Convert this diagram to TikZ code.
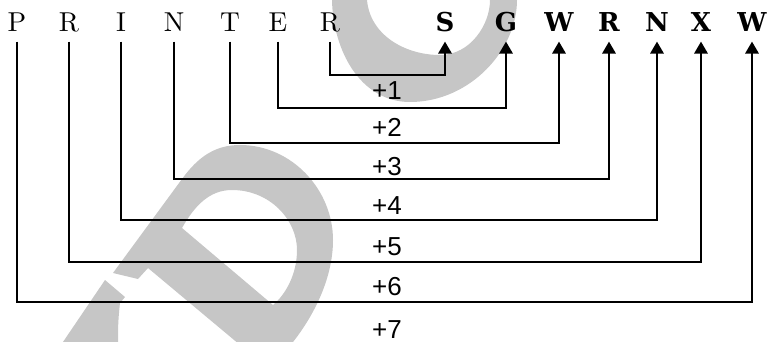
\documentclass[tikz,border=0pt]{standalone}
\usepackage{fontspec}
\newfontfamily\wordfont{lmroman10-regular}[Extension=.otf]
\newfontfamily\codefont{DejaVu Serif}
\newfontfamily\stepfont{Liberation Sans}
\usetikzlibrary{arrows.meta}
\definecolor{wmgray}{RGB}{198,198,198}
\tikzset{
  src/.style={anchor=base, inner xsep=0pt, inner ysep=7pt, text depth=0pt,
    font=\wordfont\fontsize{20.5}{20.5}\selectfont},
  dst/.style={anchor=base, inner xsep=0pt, inner ysep=7pt, text depth=0pt,
    font=\codefont\bfseries\fontsize{19.5}{19.5}\selectfont},
  link/.style={line width=1.7pt, -{Triangle[width=10pt,length=9pt]}},
  amt/.style={inner sep=0pt, font=\stepfont\fontsize{19.5}{19.5}\selectfont},
  wmark/.style={fill=wmgray, draw=none}
}
\begin{document}
\begin{tikzpicture}[x=0.75pt,y=-0.75pt]
\useasboundingbox (0,0) rectangle (767,342);
% Watermark behind the diagram
\begin{scope}
  \clip (0,0) rectangle (767,342);
  \fill[wmark, even odd rule] (332,-10) -- (332,0) .. controls (333,50) and (360,102) .. (410,102)
    .. controls (470,102) and (517,50) .. (517,0) -- (517,-10) -- cycle
    (367,-10) -- (367,0) .. controls (370,35) and (405,55) .. (440,55)
    .. controls (470,55) and (490,25) .. (490,0) -- (490,-10) -- cycle;
  \fill[wmark, even odd rule] (113,273) -- (182,179) .. controls (198,157) and (215,145) .. (240,145)
    .. controls (292,145) and (333,190) .. (333,240) .. controls (333,280) and (312,318) .. (293,342)
    -- (280,360) -- (258,360) -- (148,268) -- (138,279) -- cycle
    (182,228) .. controls (195,205) and (210,190) .. (232,190) .. controls (270,190) and (297,220) .. (297,250)
    .. controls (297,275) and (285,295) .. (273,305) -- cycle;
  \fill[wmark] (44,370) -- (105,280) -- (125,297) -- (120,303) .. controls (118,320) and (118,330) .. (118,342)
    -- (117,370) -- cycle;
\end{scope}
% Plain word and its code
\foreach \x/\lt [count=\i] in {17/P,69/R,121/I,174/N,230/T,278/E,330/R}
  \node[src] (s\i) at (\x,32) {\lt};
\foreach \x/\lt [count=\i] in {445/S,506/G,559/W,609/R,657/N,701/X,752/W}
  \node[dst] (t\i) at (\x,32) {\lt};
% Each letter moved forward by its step
\foreach \i/\j/\y/\ly in {7/1/75/91,6/2/108/127,5/3/143/167,4/4/179/206,3/5/220/247,2/6/262/287,1/7/302/329.5}
{
  \coordinate (h\j) at (0,\y);
  \draw[link] (s\i) -- (s\i |- h\j) -| (t\j);
  \node[amt] (d\j) at (387,\ly) {+\j};
}
\end{tikzpicture}
\end{document}
